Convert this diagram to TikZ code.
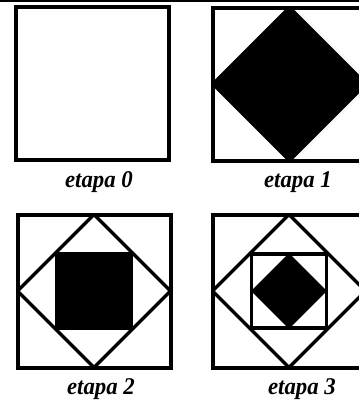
\documentclass[tikz,border=0pt]{standalone}
\usepackage{fontspec}
\setmainfont{Liberation Serif}
\usetikzlibrary{positioning, calc}

\tikzset{
    frame/.style={line width=3pt},
    rhomb/.style={line width=2.6pt, line join=round},
    stage/.style={font=\fontsize{18}{20}\selectfont\bfseries\itshape, anchor=base, inner sep=0pt},
}

\begin{document}
\begin{tikzpicture}[x=0.75pt, y=-0.75pt]
    \clip (0,0) rectangle (359,404);
    \fill[white] (0,0) rectangle (359,404);

    % Rule along the top
    \draw[line width=1.9pt] (0,1.2) -- (359,1.2);

    % Outer frames with their stage labels
    \foreach \n/\x/\y/\lx/\ly in {0/92/83.5/99/187, 1/289.5/84/298/187, 2/94/291/101/394, 3/289/291/302/394} {
        \coordinate (c\n) at (\x,\y);
        \draw[frame] ($(c\n)+(-76.5,-76.5)$) rectangle ($(c\n)+(76.5,76.5)$);
        \node[stage] (lab\n) at (\lx,\ly) {\scalebox{0.95}[1]{etapa \n}};
    }

    % Stage 1: black diamond on the side midpoints
    \filldraw[rhomb, fill=black] ($(c1)+(0,-76.5)$) -- ($(c1)+(-76.5,0)$)
        -- ($(c1)+(0,76.5)$) -- ($(c1)+(76.5,0)$) -- cycle;

    % Stages 2 and 3: open diamond
    \foreach \n in {2,3} {
        \draw[rhomb] ($(c\n)+(0,-76.5)$) -- ($(c\n)+(-76.5,0)$)
            -- ($(c\n)+(0,76.5)$) -- ($(c\n)+(76.5,0)$) -- cycle;
    }

    % Stage 2: black inner square
    \filldraw[rhomb, fill=black] ($(c2)+(-37,-37)$) rectangle ($(c2)+(37,37)$);

    % Stage 3: open inner square, black inner diamond
    \draw[rhomb] ($(c3)+(-37.5,-37)$) rectangle ($(c3)+(37.5,37)$);
    \filldraw[rhomb, fill=black] ($(c3)+(0,-35.5)$) -- ($(c3)+(-35.5,0)$)
        -- ($(c3)+(0,35.5)$) -- ($(c3)+(35.5,0)$) -- cycle;
\end{tikzpicture}
\end{document}
